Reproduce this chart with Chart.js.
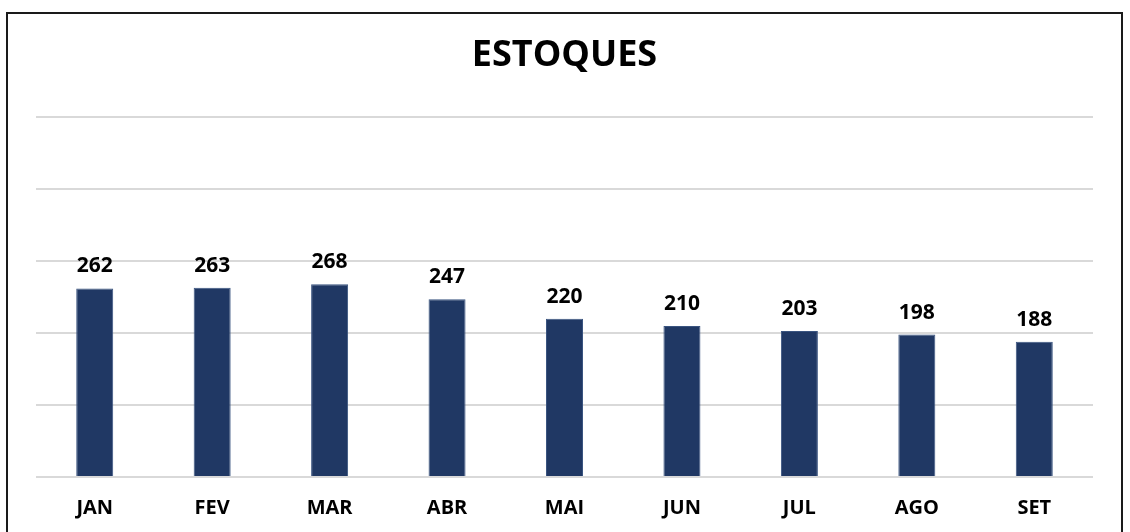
<!DOCTYPE html>
<html>
<head>
<meta charset="utf-8">
<script src="https://cdn.jsdelivr.net/npm/chart.js@4"></script>
<style>
    html, body { margin: 0; padding: 0; background: #fff; overflow: hidden; }
    #frame {
        position: absolute; left: 6px; top: 12px;
        width: 1113px; height: 600px;
        border: 2px solid #1a1a1a;
    }
    #wrap { position: absolute; left: 0; top: 0; width: 1130px; height: 532px; }
</style>
</head>
<body>
<div id="frame"></div>
<div id="wrap"><canvas id="chart"></canvas></div>
<script>
// ===== DATA =====
const months = ['JAN', 'FEV', 'MAR', 'ABR', 'MAI', 'JUN', 'JUL', 'AGO', 'SET'];
const stock = [262, 263, 268, 247, 220, 210, 203, 198, 188];
const chartTitle = 'ESTOQUES';

const barColor = '#203864';
const fontFamily = '"Open Sans", "Liberation Sans", sans-serif';

// simple value labels above each bar
const valueLabels = {
    id: 'valueLabels',
    afterDatasetsDraw(chart) {
        const ctx = chart.ctx;
        const meta = chart.getDatasetMeta(0);
        ctx.save();
        ctx.font = 'bold 21px ' + fontFamily;
        ctx.fillStyle = '#000';
        ctx.textAlign = 'center';
        ctx.textBaseline = 'middle';
        meta.data.forEach((bar, i) => {
            ctx.fillText(String(stock[i]), bar.x, bar.y - 22);
        });
        ctx.restore();
    }
};

new Chart(document.getElementById('chart'), {
    type: 'bar',
    data: {
        labels: months,
        datasets: [{
            data: stock,
            backgroundColor: barColor,
            borderColor: '#3a5480',
            borderWidth: 1,
            barPercentage: 1,
            categoryPercentage: 0.315
        }]
    },
    options: {
        responsive: true,
        maintainAspectRatio: false,
        animation: false,
        layout: { padding: { left: 36, right: 37, top: 0, bottom: 0 } },
        plugins: {
            legend: { display: false },
            tooltip: { enabled: false },
            title: {
                display: true,
                text: chartTitle,
                color: '#000',
                font: { family: fontFamily, size: 36, weight: 'bold' },
                padding: { top: 34, bottom: 40 }
            }
        },
        scales: {
            x: {
                grid: { display: false, drawTicks: false },
                border: { display: false },
                ticks: {
                    color: '#000',
                    padding: 19,
                    font: { family: fontFamily, size: 20, weight: 'bold' }
                },
                afterFit(scale) { scale.height = 55; }
            },
            y: {
                min: 0,
                max: 500,
                ticks: { display: false, stepSize: 100 },
                border: { display: false },
                grid: { color: '#d9d9d9', lineWidth: 2, drawTicks: false }
            }
        }
    },
    plugins: [valueLabels]
});
</script>
</body>
</html>
